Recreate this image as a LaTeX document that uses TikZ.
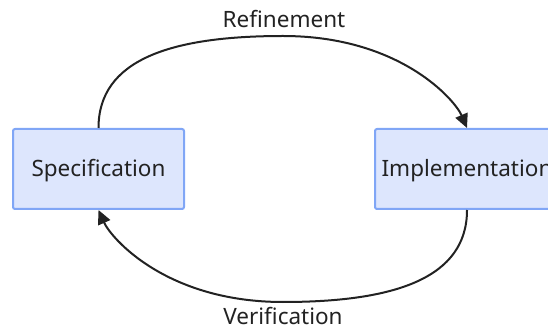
\documentclass[tikz,border=0pt]{standalone}
\usepackage{fontspec}
\setmainfont{Noto Sans}
\usetikzlibrary{arrows.meta}
\definecolor{boxfill}{RGB}{221,230,253}
\definecolor{boxline}{RGB}{128,166,246}
\definecolor{ink}{RGB}{34,34,34}
\begin{document}
\begin{tikzpicture}[x=1pt,y=-1pt,
  stage/.style={draw=boxline, fill=boxfill, line width=2pt, rounded corners=2pt,
    minimum height=80pt, inner sep=0pt, text=ink, text height=16pt, text depth=0pt,
    font=\fontsize{22.5}{27}\selectfont},
  edge/.style={draw=ink, line width=2pt, -{Triangle[length=14pt,width=13pt]}},
  edgelabel/.style={text=ink, inner sep=0pt, anchor=base,
    font=\fontsize{22.5}{27}\selectfont}]
\useasboundingbox (0,0) rectangle (548,328);

% the two stages
\node[stage, minimum width=171pt] (spec) at (98.5,169) {Specification};
\node[stage, minimum width=184pt] (impl) at (467,169) {Implementation};

% refinement: over the top, from specification to implementation
\draw[edge] (spec.north) .. controls (98.5,60) and (170,36) .. (283,36)
  .. controls (400,36) and (455,100) .. (impl.north);
\node[edgelabel] (refine) at (284,28) {Refinement};

% verification: underneath, from implementation back to specification
\draw[edge] (impl.south) .. controls (467,278) and (395,302) .. (283,302)
  .. controls (166,302) and (111,238) .. (spec.south);
\node[edgelabel] (verify) at (283,324) {Verification};
\end{tikzpicture}
\end{document}
